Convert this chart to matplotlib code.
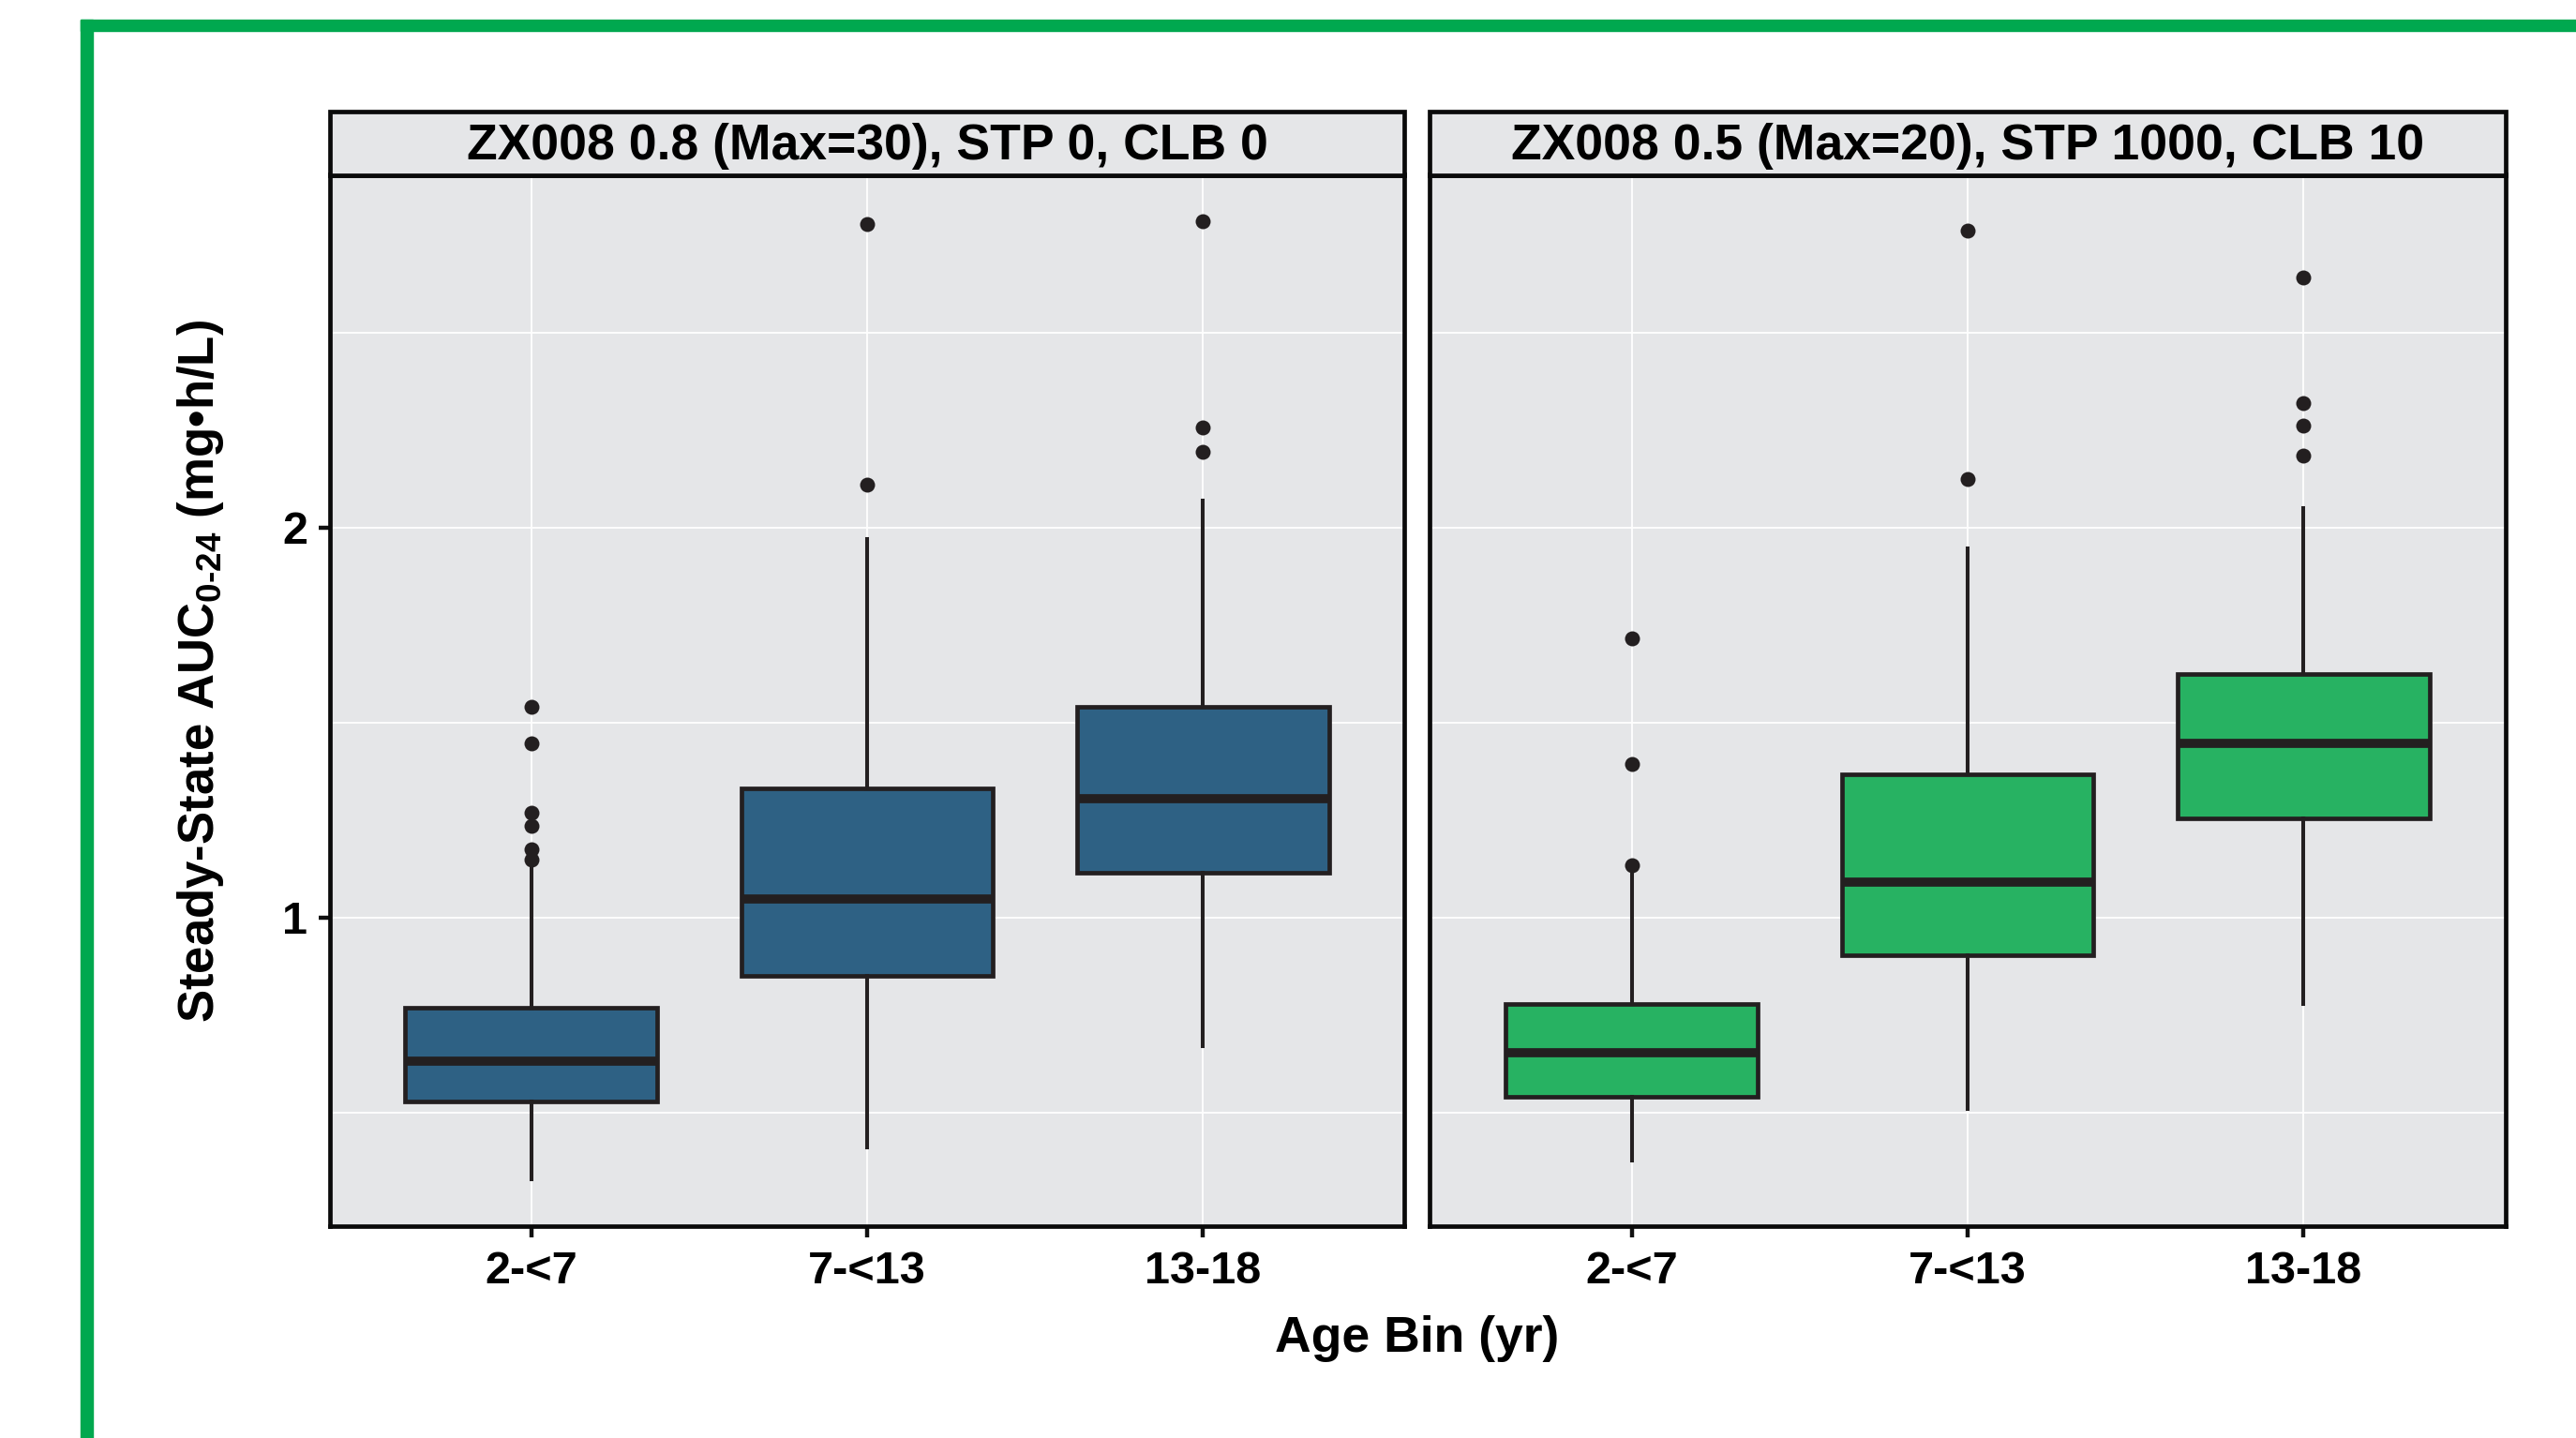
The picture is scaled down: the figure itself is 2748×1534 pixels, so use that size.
import matplotlib
matplotlib.use("Agg")
import matplotlib.pyplot as plt
from matplotlib.patches import Rectangle
from matplotlib.ticker import FixedLocator, NullFormatter

plt.rcParams['font.family'] = ['Liberation Sans', 'DejaVu Sans']
plt.rcParams['font.weight'] = 'bold'
plt.rcParams['mathtext.fontset'] = 'custom'
plt.rcParams['mathtext.rm'] = 'Liberation Sans:bold'
plt.rcParams['mathtext.bf'] = 'Liberation Sans:bold'
plt.rcParams['mathtext.it'] = 'Liberation Sans:bold:italic'
plt.rcParams['mathtext.sf'] = 'Liberation Sans:bold'

# age bins and facet titles
age_bins = ["2-<7", "7-<13", "13-18"]
panel_titles = ["ZX008 0.8 (Max=30), STP 0, CLB 0",
				"ZX008 0.5 (Max=20), STP 1000, CLB 10"]
panel_colors = ["#2E6184", "#27B262"]

# box summaries per age bin: lower whisker, Q1, median, Q3, upper whisker
dose1_whislo = [0.628, 0.665, 0.796]
dose1_q1 = [0.721, 0.902, 1.083]
dose1_med = [0.775, 1.033, 1.234]
dose1_q3 = [0.852, 1.257, 1.454]
dose1_whishi = [1.090, 1.960, 2.096]
dose1_fliers = [[1.109, 1.129, 1.177, 1.205, 1.363, 1.453],
				[2.158, 3.430],
				[2.288, 2.390, 3.446]]

dose2_whislo = [0.649, 0.712, 0.857]
dose2_q1 = [0.727, 0.935, 1.193]
dose2_med = [0.786, 1.065, 1.362]
dose2_q3 = [0.857, 1.290, 1.542]
dose2_whishi = [1.082, 1.928, 2.069]
dose2_fliers = [[1.098, 1.314, 1.641],
				[2.178, 3.390],
				[2.272, 2.395, 2.495, 3.118]]

y_major = [1, 2]
y_minor = [0.7071, 1.4142, 2.8284]
y_range = (0.5777, 3.742)

W, H = 2748, 1534
EDGE = "#231F20"
PANEL_BG = "#E5E6E8"


def box_stats(whislo, q1, med, q3, whishi, fliers):
	stats = []
	for i in range(len(age_bins)):
		stats.append(dict(whislo=whislo[i], q1=q1[i], med=med[i], q3=q3[i],
						  whishi=whishi[i], fliers=fliers[i], label=age_bins[i]))
	return stats


def draw_panel(ax, stats, color, title):
	ax.set_facecolor(PANEL_BG)
	ax.bxp(stats, positions=[1, 2, 3], widths=0.75, patch_artist=True,
		   showcaps=False, showfliers=True,
		   boxprops=dict(facecolor=color, edgecolor=EDGE, linewidth=3.4),
		   medianprops=dict(color=EDGE, linewidth=7, solid_capstyle='butt'),
		   whiskerprops=dict(color=EDGE, linewidth=2.9),
		   flierprops=dict(marker='o', markersize=11.5, markerfacecolor=EDGE,
						   markeredgecolor='none'))
	ax.set_yscale('log')
	ax.set_ylim(*y_range)
	ax.set_xlim(0.4, 3.6)
	ax.yaxis.set_major_locator(FixedLocator(y_major))
	ax.yaxis.set_minor_locator(FixedLocator(y_minor))
	ax.yaxis.set_major_formatter(plt.FixedFormatter(["1", "2"]))
	ax.yaxis.set_minor_formatter(NullFormatter())
	ax.set_xticks([1, 2, 3])
	ax.set_xticklabels(age_bins, fontsize=35, fontweight='bold')
	ax.set_axisbelow(True)
	ax.grid(which='both', color='white', linewidth=1.3)
	ax.tick_params(which='minor', length=0)
	ax.tick_params(which='major', length=8.6, width=3.2, color='#111111',
				   labelsize=35, pad=8)
	ax.tick_params(axis='x', pad=10)
	for s in ax.spines.values():
		s.set_linewidth(3.4)
		s.set_color('#0A0A0A')
		s.set_zorder(5)

	# facet strip on top of the panel
	strip_h = (186.5 - 119) / 1121.5
	ax.add_patch(Rectangle((0, 1), 1, strip_h, transform=ax.transAxes,
						   facecolor=PANEL_BG, edgecolor='#0A0A0A',
						   linewidth=3.4, clip_on=False, zorder=6))
	ax.text(0.5, 1 + (1308 - 170) / 1121.5 - 1, title, transform=ax.transAxes,
			ha='center', va='baseline', fontsize=38.5, fontweight='bold',
			zorder=7)


fig = plt.figure(figsize=(W / 100, H / 100), dpi=100)

# green frame along the top and left edges
fig.patches.append(Rectangle((86 / W, 1 - 33.3 / H), 1, 12.6 / H,
							 transform=fig.transFigure, color="#00A84F"))
fig.patches.append(Rectangle((86 / W, 0), 13 / W, 1 - 20.7 / H,
							 transform=fig.transFigure, color="#00A84F"))

bottom = (H - 1308) / H
height = 1121.5 / H
width = 1147 / W
ax1 = fig.add_axes([351.5 / W, bottom, width, height])
ax2 = fig.add_axes([1525.5 / W, bottom, width, height])

draw_panel(ax1, box_stats(dose1_whislo, dose1_q1, dose1_med, dose1_q3,
						  dose1_whishi, dose1_fliers), panel_colors[0], panel_titles[0])
draw_panel(ax2, box_stats(dose2_whislo, dose2_q1, dose2_med, dose2_q3,
						  dose2_whishi, dose2_fliers), panel_colors[1], panel_titles[1])
ax2.tick_params(axis='y', which='both', length=0, labelleft=False)

fig.text(214 / W, (H - 716) / H,
		 r"Steady-State AUC$_{\mathrm{0\text{-}24}}$ (mg•h/L)",
		 rotation=90, ha='center', va='center', fontsize=38, fontweight='bold')
fig.text(1512 / W, 1 - 1442 / H, "Age Bin (yr)", ha='center', va='baseline',
		 fontsize=38.5, fontweight='bold')

fig.savefig("out.png", dpi=100)
